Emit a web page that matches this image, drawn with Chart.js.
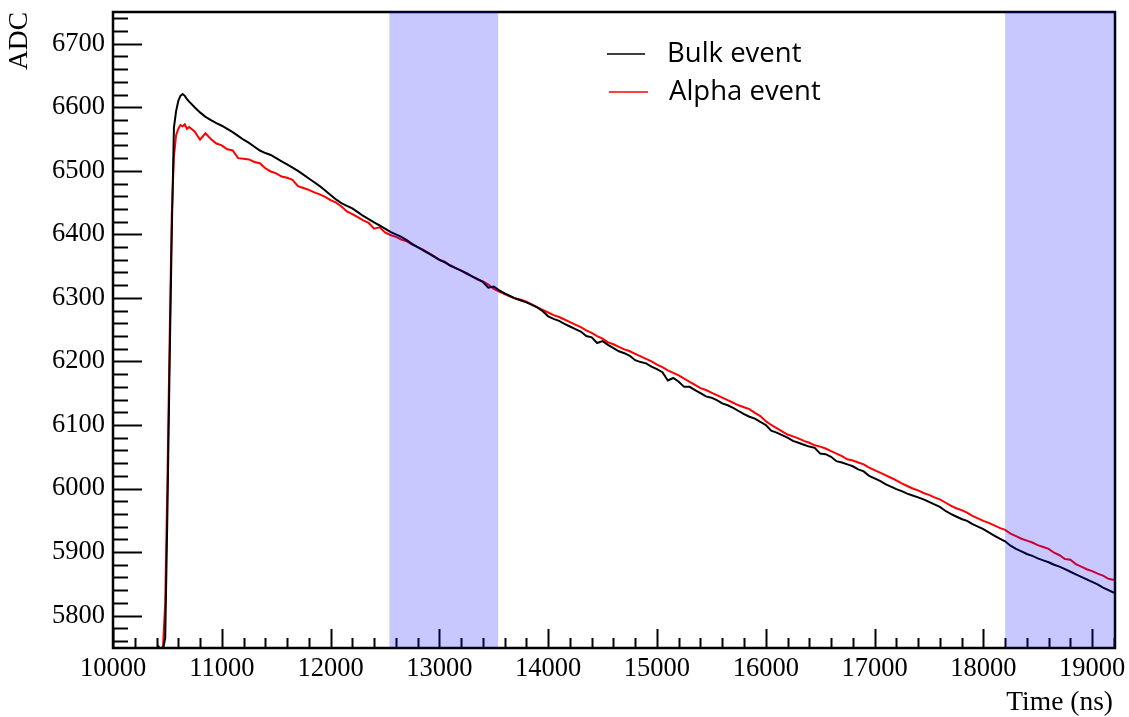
<!DOCTYPE html>
<html>
<head>
<meta charset="utf-8">
<title>ADC waveform</title>
<script src="https://cdn.jsdelivr.net/npm/chart.js@4/dist/chart.umd.min.js"></script>
<style>
  html, body { margin: 0; padding: 0; background: #fff; }
  #wave { display: block; }
</style>
</head>
<body>
<canvas id="wave" width="1129" height="717"></canvas>
<script>
// sample times (ns)
const timeNs = [
  10000, 10100, 10200, 10300, 10400, 10420, 10440, 10460, 10480, 10500,
  10520, 10540, 10560, 10580, 10600, 10620, 10640, 10660, 10680, 10700,
  10750, 10800, 10850, 10900, 10950, 11000, 11050, 11100, 11150, 11200,
  11250, 11300, 11350, 11400, 11450, 11500, 11550, 11600, 11650, 11700,
  11750, 11800, 11850, 11900, 11950, 12000, 12050, 12100, 12150, 12200,
  12250, 12300, 12350, 12400, 12450, 12500, 12550, 12600, 12650, 12700,
  12750, 12800, 12850, 12900, 12950, 13000, 13050, 13100, 13150, 13200,
  13250, 13300, 13350, 13400, 13450, 13500, 13550, 13600, 13650, 13700,
  13750, 13800, 13850, 13900, 13950, 14000, 14050, 14100, 14150, 14200,
  14250, 14300, 14350, 14400, 14450, 14500, 14550, 14600, 14650, 14700,
  14750, 14800, 14850, 14900, 14950, 15000, 15050, 15100, 15150, 15200,
  15250, 15300, 15350, 15400, 15450, 15500, 15550, 15600, 15650, 15700,
  15750, 15800, 15850, 15900, 15950, 16000, 16050, 16100, 16150, 16200,
  16250, 16300, 16350, 16400, 16450, 16500, 16550, 16600, 16650, 16700,
  16750, 16800, 16850, 16900, 16950, 17000, 17050, 17100, 17150, 17200,
  17250, 17300, 17350, 17400, 17450, 17500, 17550, 17600, 17650, 17700,
  17750, 17800, 17850, 17900, 17950, 18000, 18050, 18100, 18150, 18200,
  18250, 18300, 18350, 18400, 18450, 18500, 18550, 18600, 18650, 18700,
  18750, 18800, 18850, 18900, 18950, 19000, 19050, 19100, 19150, 19200
];

// bulk event waveform (ADC)
const bulkAdc = [
  5744, 5744, 5745, 5744, 5745, 5751, 5746, 5747, 5765, 5960,
  6190, 6400, 6568, 6594, 6610, 6618, 6621, 6618, 6613, 6609,
  6600, 6592, 6585, 6580, 6575, 6571, 6566, 6561, 6555, 6549,
  6544, 6538, 6532, 6528, 6525, 6520, 6515, 6510, 6505, 6500,
  6494, 6488, 6482, 6476, 6469, 6462, 6455, 6449, 6445, 6441,
  6435, 6429, 6424, 6419, 6414, 6409, 6404, 6400, 6396, 6391,
  6385, 6380, 6375, 6370, 6365, 6360, 6356, 6351, 6347, 6343,
  6339, 6334, 6330, 6325, 6316, 6318, 6312, 6307, 6303, 6299,
  6296, 6293, 6289, 6285, 6279, 6271, 6267, 6264, 6259, 6255,
  6251, 6247, 6240, 6238, 6229, 6232, 6226, 6221, 6216, 6213,
  6209, 6202, 6199, 6197, 6192, 6188, 6183, 6170, 6174, 6168,
  6160, 6160, 6155, 6150, 6145, 6143, 6139, 6134, 6131, 6127,
  6122, 6117, 6113, 6110, 6105, 6100, 6091, 6088, 6084, 6080,
  6075, 6072, 6069, 6066, 6064, 6055, 6054, 6050, 6043, 6041,
  6038, 6035, 6030, 6027, 6020, 6016, 6012, 6007, 6003, 5999,
  5996, 5992, 5989, 5986, 5983, 5979, 5975, 5971, 5965, 5960,
  5956, 5952, 5949, 5944, 5940, 5936, 5931, 5926, 5921, 5917,
  5910, 5905, 5901, 5897, 5894, 5890, 5887, 5884, 5880, 5877,
  5873, 5869, 5865, 5861, 5857, 5853, 5849, 5844, 5840, 5836
];

// alpha event waveform (ADC)
const alphaAdc = [
  5743, 5744, 5743, 5744, 5744, 5745, 5746, 5752, 5820, 6010,
  6230, 6430, 6522, 6556, 6566, 6572, 6570, 6573, 6566, 6569,
  6562, 6549, 6559, 6550, 6543, 6540, 6534, 6532, 6520, 6519,
  6518, 6514, 6512, 6504, 6499, 6496, 6491, 6489, 6486, 6476,
  6473, 6470, 6466, 6463, 6459, 6454, 6450, 6444, 6436, 6432,
  6427, 6422, 6418, 6409, 6411, 6403, 6399, 6396, 6392, 6389,
  6384, 6380, 6376, 6371, 6366, 6360, 6357, 6351, 6347, 6343,
  6338, 6334, 6329, 6326, 6321, 6314, 6310, 6306, 6302, 6299,
  6297, 6294, 6290, 6285, 6281, 6277, 6273, 6270, 6266, 6262,
  6258, 6254, 6249, 6245, 6240, 6236, 6230, 6227, 6223, 6219,
  6216, 6212, 6208, 6204, 6200, 6195, 6191, 6186, 6182, 6178,
  6173, 6168, 6163, 6158, 6155, 6151, 6147, 6143, 6139, 6135,
  6131, 6128, 6125, 6119, 6114, 6106, 6100, 6095, 6090, 6085,
  6082, 6079, 6075, 6072, 6068, 6066, 6063, 6059, 6055, 6051,
  6046, 6044, 6041, 6038, 6033, 6029, 6025, 6021, 6017, 6013,
  6008, 6004, 6000, 5997, 5993, 5990, 5986, 5983, 5978, 5973,
  5969, 5966, 5962, 5957, 5953, 5949, 5946, 5942, 5938, 5935,
  5929, 5925, 5921, 5918, 5915, 5911, 5908, 5905, 5899, 5895,
  5889, 5888, 5881, 5877, 5873, 5870, 5866, 5863, 5858, 5856
];

// labelled axis ticks
const xTicks = [10000, 11000, 12000, 13000, 14000, 15000, 16000, 17000, 18000, 19000];
const yTicks = [5800, 5900, 6000, 6100, 6200, 6300, 6400, 6500, 6600, 6700];

// shaded integration windows [start, end] in ns
const windowsNs = [[12540, 13540], [18200, 19210]];

const seriesNames = ['Bulk event', 'Alpha event'];
const seriesColors = ['#000000', '#ff0000'];

const xMin = 10000, xMax = 19210;
const yMin = 5749, yMax = 6750;

const serif = '"Liberation Serif", "DejaVu Serif", serif';

function toPoints(ys) {
  return timeNs.map((t, i) => ({ x: t, y: ys[i] }));
}

// no label overhang padding, the frame is placed by layout.padding alone
function noOverhang(s) {
  s.paddingTop = 0;
  s.paddingBottom = 0;
  s.paddingLeft = 0;
  s.paddingRight = 0;
}

// frame, inward ticks, legend, axis titles and shaded windows
const rootStyle = {
  id: 'rootStyle',
  afterDatasetsDraw(chart) {
    const ctx = chart.ctx;
    const area = chart.chartArea;
    const xs = chart.scales.x;
    const ys = chart.scales.y;

    ctx.save();
    ctx.strokeStyle = '#000';
    ctx.lineWidth = 2;

    // y ticks: major every 100, minor every 20
    for (let v = Math.ceil(yMin / 20) * 20; v <= yMax; v += 20) {
      const py = Math.round(ys.getPixelForValue(v)) + 0.5;
      const len = v % 100 === 0 ? 29 : 15;
      ctx.beginPath();
      ctx.moveTo(area.left, py);
      ctx.lineTo(area.left + len, py);
      ctx.stroke();
    }
    // x ticks: major every 1000, minor every 200
    for (let t = xMin; t <= xMax; t += 200) {
      const px = Math.round(xs.getPixelForValue(t)) + 0.5;
      const len = t % 1000 === 0 ? 19 : 10;
      ctx.beginPath();
      ctx.moveTo(px, area.bottom);
      ctx.lineTo(px, area.bottom - len);
      ctx.stroke();
    }

    // frame
    ctx.lineWidth = 2.5;
    ctx.strokeRect(area.left, area.top, area.right - area.left, area.bottom - area.top);

    // legend
    const legendRows = [
      { y: 54, x0: 607, x1: 645, tx: 667 },
      { y: 92, x0: 609, x1: 648, tx: 669 }
    ];
    ctx.font = '27.5px "Open Sans", "Noto Sans", sans-serif';
    ctx.textBaseline = 'middle';
    ctx.textAlign = 'left';
    legendRows.forEach((row, i) => {
      ctx.strokeStyle = seriesColors[i];
      ctx.lineWidth = 1.5;
      ctx.beginPath();
      ctx.moveTo(row.x0, row.y);
      ctx.lineTo(row.x1, row.y);
      ctx.stroke();
      ctx.fillStyle = '#000';
      ctx.fillText(seriesNames[i], row.tx, row.y);
    });

    // axis titles
    ctx.fillStyle = '#000';
    ctx.font = '27.5px ' + serif;
    ctx.textBaseline = 'alphabetic';
    ctx.textAlign = 'right';
    ctx.fillText('Time (ns)', 1113, 710);
    ctx.save();
    ctx.translate(26.5, 12);
    ctx.rotate(-Math.PI / 2);
    ctx.fillText('ADC', 0, 0);
    ctx.restore();

    // shaded windows drawn on top
    ctx.fillStyle = 'rgba(0, 0, 255, 0.215)';
    windowsNs.forEach(([a, b]) => {
      const x0 = xs.getPixelForValue(a);
      const x1 = Math.min(xs.getPixelForValue(b), area.right);
      ctx.fillRect(x0, area.top - 1, x1 - x0, area.bottom - area.top + 1);
    });
    ctx.restore();
  }
};

const ctx = document.getElementById('wave').getContext('2d');
const waveChart = new Chart(ctx, {
  type: 'line',
  data: {
    datasets: [
      {
        label: seriesNames[0],
        data: toPoints(bulkAdc),
        borderColor: seriesColors[0],
        borderWidth: 2,
        pointRadius: 0,
        tension: 0,
        fill: false
      },
      {
        label: seriesNames[1],
        data: toPoints(alphaAdc),
        borderColor: seriesColors[1],
        borderWidth: 2,
        pointRadius: 0,
        tension: 0,
        fill: false
      }
    ]
  },
  options: {
    responsive: false,
    animation: false,
    devicePixelRatio: 1,
    layout: { padding: { top: 12, right: 14, left: 0, bottom: 0 } },
    plugins: {
      legend: { display: false },
      tooltip: { enabled: false }
    },
    scales: {
      x: {
        type: 'linear',
        min: xMin,
        max: xMax,
        grid: { display: false, drawTicks: false },
        border: { display: false },
        afterBuildTicks: s => { s.ticks = xTicks.map(v => ({ value: v })); },
        afterFit: s => { s.height = 69; noOverhang(s); },
        ticks: {
          padding: 5,
          color: '#000',
          maxRotation: 0,
          autoSkip: false,
          font: { family: serif, size: 26.5 },
          callback: v => String(v)
        }
      },
      y: {
        type: 'linear',
        min: yMin,
        max: yMax,
        grid: { display: false, drawTicks: false },
        border: { display: false },
        afterBuildTicks: s => { s.ticks = yTicks.map(v => ({ value: v })); },
        afterFit: s => { s.width = 113; noOverhang(s); },
        ticks: {
          padding: 8,
          color: '#000',
          autoSkip: false,
          font: { family: serif, size: 26.5 },
          callback: v => String(v)
        }
      }
    }
  },
  plugins: [rootStyle]
});
</script>
</body>
</html>
